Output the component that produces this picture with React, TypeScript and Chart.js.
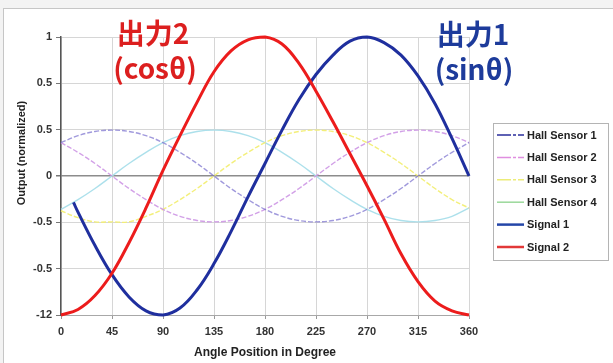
import React, { useEffect, useRef } from "react";
import { Chart, registerables } from "chart.js";

Chart.register(...registerables);

// ---------- data ----------
const angles = [0, 15, 30, 45, 60, 75, 90, 105, 120, 135, 150, 165, 180, 195, 210, 225, 240, 255, 270, 285, 300, 315, 330, 345, 360];

const hallSensor1 = [0.24, 0.29, 0.32, 0.33, 0.32, 0.29, 0.24, 0.17, 0.09, 0, -0.09, -0.17, -0.24, -0.29, -0.32, -0.33, -0.32, -0.29, -0.24, -0.17, -0.09, 0, 0.09, 0.17, 0.24];
const hallSensor2 = [0.24, 0.17, 0.09, 0, -0.09, -0.17, -0.24, -0.29, -0.32, -0.33, -0.32, -0.29, -0.24, -0.17, -0.09, 0, 0.09, 0.17, 0.24, 0.29, 0.32, 0.33, 0.32, 0.29, 0.24];
const hallSensor3 = [-0.25, -0.3, -0.33, -0.33, -0.33, -0.29, -0.24, -0.17, -0.09, 0, 0.09, 0.17, 0.24, 0.29, 0.32, 0.33, 0.32, 0.29, 0.24, 0.17, 0.09, 0, -0.09, -0.17, -0.23];
const hallSensor4 = [-0.24, -0.17, -0.09, 0, 0.09, 0.17, 0.24, 0.29, 0.32, 0.33, 0.32, 0.29, 0.24, 0.17, 0.09, 0, -0.09, -0.17, -0.24, -0.29, -0.32, -0.33, -0.32, -0.29, -0.23];

const signal1Angles = [11, 15, 30, 45, 60, 75, 90, 105, 120, 135, 150, 165, 180, 195, 210, 225, 240, 255, 270, 285, 300, 315, 330, 345, 360];
const signal1 = [-0.19, -0.26, -0.5, -0.71, -0.87, -0.97, -1.0, -0.95, -0.82, -0.63, -0.4, -0.15, 0.09, 0.33, 0.55, 0.73, 0.87, 0.97, 1.0, 0.96, 0.87, 0.72, 0.52, 0.27, 0];

const signal2 = [-1.0, -0.96, -0.86, -0.7, -0.48, -0.23, 0.04, 0.29, 0.53, 0.75, 0.9, 0.98, 1.0, 0.95, 0.81, 0.61, 0.39, 0.16, -0.07, -0.31, -0.56, -0.76, -0.9, -0.97, -1.0];

const seriesLabels = ["Hall Sensor 1", "Hall Sensor 2", "Hall Sensor 3", "Hall Sensor 4", "Signal 1", "Signal 2"];

const yTickValues = [-1, -2 / 3, -1 / 3, 0, 1 / 3, 2 / 3, 1];
const yTickLabels = ["-12", "-0.5", "-0.5", "0", "0.5", "0.5", "1"];
const xTickValues = [0, 45, 90, 135, 180, 225, 270, 315, 360];

const xTitle = "Angle Position in Degree";
const yTitle = "Output (normalized)";
const title2Lines = ["出力2", "(cosθ)"];
const title1Lines = ["出力1", "(sinθ)"];

// ---------- styles ----------
const lineColors = ["rgba(120,110,205,0.7)", "rgba(205,150,228,0.9)", "rgba(242,238,115,0.95)", "rgba(168,222,234,0.95)", "#1f2f9e", "#ec1c1c"];
const lineWidths = [1.4, 1.4, 1.4, 1.4, 3, 3];
const lineDashes = [[5, 2], [5, 2], [5, 2], [], [], []];
const legendColors = ["#2a2e9c", "#e08ee0", "#ecec78", "#9ad89a", "#2446a8", "#e23838"];
const legendWidths = [1.5, 1.5, 1.5, 1.5, 2.5, 2.5];

const FONT = "'Liberation Sans', Arial, sans-serif";
const CJK = "'Noto Sans CJK JP', 'Noto Sans CJK SC', sans-serif";

const decorPlugin = {
  id: "decor",
  beforeDraw(chart: any) {
    const ctx = chart.ctx as CanvasRenderingContext2D;
    ctx.save();
    ctx.fillStyle = "#f3f3f3";
    ctx.fillRect(0, 0, chart.width, chart.height);
    ctx.fillStyle = "#ffffff";
    ctx.fillRect(3, 8, chart.width, chart.height);
    ctx.strokeStyle = "#c6c6c6";
    ctx.lineWidth = 1;
    ctx.strokeRect(3.5, 8.5, chart.width + 10, chart.height + 10);
    ctx.restore();
  },
  afterDraw(chart: any) {
    const ctx = chart.ctx as CanvasRenderingContext2D;
    ctx.save();
    // y title
    ctx.translate(22, 153);
    ctx.rotate(-Math.PI / 2);
    ctx.font = `bold 11px ${FONT}`;
    ctx.fillStyle = "#222";
    ctx.textAlign = "center";
    ctx.textBaseline = "middle";
    ctx.fillText(yTitle, 0, 0);
    ctx.restore();

    // big titles
    ctx.save();
    ctx.font = `bold 28px ${CJK}`;
    ctx.textAlign = "center";
    ctx.textBaseline = "middle";
    ctx.fillStyle = "#dc1f1f";
    ctx.fillText(title2Lines[0], 153, 33);
    ctx.fillText(title2Lines[1], 155, 68);
    ctx.fillStyle = "#1d3b9b";
    ctx.fillText(title1Lines[0], 473, 34);
    ctx.fillText(title1Lines[1], 474, 69);
    ctx.restore();

    // legend
    ctx.save();
    ctx.fillStyle = "#fff";
    ctx.fillRect(493, 123, 115, 137);
    ctx.strokeStyle = "#b4b4b4";
    ctx.lineWidth = 1;
    ctx.strokeRect(493.5, 123.5, 115, 137);
    ctx.font = `bold 11px ${FONT}`;
    ctx.textAlign = "left";
    ctx.textBaseline = "middle";
    seriesLabels.forEach((label, i) => {
      const y = 135 + i * 22.4;
      ctx.strokeStyle = legendColors[i];
      ctx.lineWidth = legendWidths[i];
      ctx.setLineDash(lineDashes[i].length ? [14, 2, 3, 2] : []);
      ctx.beginPath();
      ctx.moveTo(497, y);
      ctx.lineTo(524, y);
      ctx.stroke();
      ctx.setLineDash([]);
      ctx.fillStyle = "#222";
      ctx.fillText(label, 527, y + 0.5);
    });
    ctx.restore();
  },
};

export default function App() {
  const ref = useRef<HTMLCanvasElement | null>(null);

  useEffect(() => {
    if (!ref.current) return;
    const hallSets = [hallSensor1, hallSensor2, hallSensor3, hallSensor4];
    const datasets: any[] = hallSets.map((vals, i) => ({
      label: seriesLabels[i],
      data: angles.map((a, j) => ({ x: a, y: vals[j] })),
      borderColor: lineColors[i],
      borderWidth: lineWidths[i],
      borderDash: lineDashes[i],
      pointRadius: 0,
      tension: 0.4,
      fill: false,
      order: 2,
      clip: 4,
    }));
    datasets.push({
      label: seriesLabels[4],
      data: signal1Angles.map((a, j) => ({ x: a, y: signal1[j] })),
      borderColor: lineColors[4],
      borderWidth: lineWidths[4],
      pointRadius: 0,
      tension: 0.4,
      fill: false,
      order: 1,
      clip: 4,
    });
    datasets.push({
      label: seriesLabels[5],
      data: angles.map((a, j) => ({ x: a, y: signal2[j] })),
      borderColor: lineColors[5],
      borderWidth: lineWidths[5],
      pointRadius: 0,
      tension: 0.4,
      fill: false,
      order: 0,
      clip: 4,
    });

    const chart = new Chart(ref.current, {
      type: "line",
      data: { datasets },
      plugins: [decorPlugin],
      options: {
        animation: false,
        responsive: false,
        maintainAspectRatio: false,
        events: [],
        layout: { padding: { left: 0, top: 37, right: 144, bottom: 0 } },
        plugins: { legend: { display: false }, tooltip: { enabled: false } },
        scales: {
          x: {
            type: "linear",
            min: 0,
            max: 360,
            afterBuildTicks: (s: any) => {
              s.ticks = xTickValues.map((v) => ({ value: v }));
            },
            afterFit: (s: any) => {
              s.height = 48;
            },
            ticks: {
              autoSkip: false,
              maxRotation: 0,
              padding: 6,
              color: "#333",
              font: { family: FONT, size: 11, weight: "bold" },
            },
            grid: { color: "#d6d6d6", lineWidth: 1, tickLength: 4, tickColor: "#999" },
            border: { color: "#a8a8a8", width: 1 },
            title: {
              display: true,
              text: xTitle,
              color: "#222",
              font: { family: FONT, size: 12, weight: "bold" },
              padding: { top: 0, bottom: 3 },
            },
          },
          y: {
            type: "linear",
            min: -1,
            max: 1,
            afterBuildTicks: (s: any) => {
              s.ticks = yTickValues.map((v) => ({ value: v }));
            },
            afterFit: (s: any) => {
              s.width = 61;
            },
            ticks: {
              autoSkip: false,
              padding: 4,
              color: "#333",
              font: { family: FONT, size: 11, weight: "bold" },
              callback: (_v: any, i: number) => yTickLabels[i],
            },
            grid: {
              color: (c: any) => (c.tick && c.tick.value === 0 ? "#8c8c8c" : "#d6d6d6"),
              lineWidth: (c: any) => (c.tick && c.tick.value === 0 ? 1.5 : 1),
              tickLength: 5,
              tickColor: "#777",
            },
            border: { color: "#555", width: 1.5 },
          },
        },
      } as any,
    });
    return () => chart.destroy();
  }, []);

  return (
    <div style={{ position: "fixed", left: 0, top: 0, width: 613, height: 363 }}>
      <canvas ref={ref} width={613} height={363} style={{ width: 613, height: 363, display: "block" }} />
    </div>
  );
}
